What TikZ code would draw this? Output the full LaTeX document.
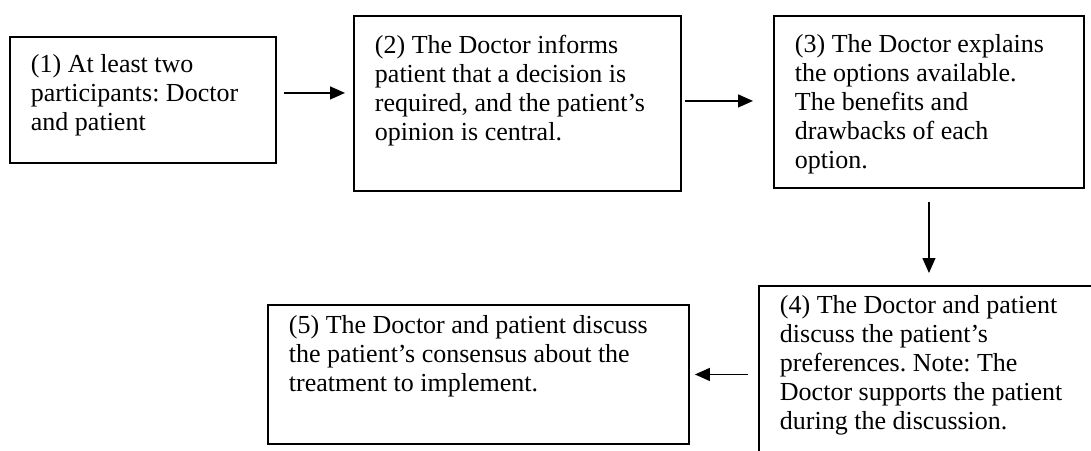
\documentclass[tikz,border=0pt]{standalone}
\usepackage{fontspec}
\setmainfont{Liberation Serif}
\usepackage{tikz}
\usetikzlibrary{arrows.meta,positioning,calc}
\frenchspacing

% text block of a step: width, height, gap to first baseline, text
\newcommand{\steptext}[4]{\parbox[t][#2][t]{#1}{\rule{0pt}{#3}#4}}

\begin{document}
\begin{tikzpicture}[x=1pt, y=-1pt,
    stepbox/.style={draw, line width=1.9pt, anchor=north west,
        inner xsep=21pt, inner ysep=0pt,
        font=\fontsize{26}{28.8}\selectfont},
    >={Triangle[length=15pt, width=13pt]},
    flow/.style={->, line width=1.3pt}]
    \clip (0,0) rectangle (1091,450);

    % Top row
    \node[stepbox] (s1) at (9,36) {\steptext{224pt}{126pt}{36pt}{(1) At least two\\ participants: Doctor\\ and patient}};
    \node[stepbox] (s2) at (353,15) {\steptext{285pt}{175pt}{38pt}{(2) The Doctor informs\\ patient that a decision is\\ required, and the patient’s\\ opinion is central.}};
    \node[stepbox] (s3) at (773,15) {\steptext{268pt}{172pt}{37pt}{(3) The Doctor explains\\ the options available.\\ The benefits and\\ drawbacks of each\\ option.}};

    % Bottom row (box 4 runs off the page)
    \node[stepbox] (s4) at (758,285) {\steptext{310pt}{185pt}{28pt}{(4) The Doctor and patient\\ discuss the patient’s\\ preferences. Note: The\\ Doctor supports the patient\\ during the discussion.}};
    \node[stepbox] (s5) at (267,304) {\steptext{379pt}{139pt}{29pt}{(5) The Doctor and patient discuss\\ the patient’s consensus about the\\ treatment to implement.}};

    % Arrows between the steps
    \draw[flow, shorten <=7pt, shorten >=8pt] ([yshift=7pt]s1.east) -- ([yshift=7pt]s1.east -| s2.west);
    \draw[flow, shorten <=3pt, shorten >=20pt] ([yshift=2.5pt]s2.east) -- ([yshift=2.5pt]s2.east -| s3.west);
    \draw[flow, shorten <=13pt, shorten >=12pt] (s3.south) -- (s3.south |- s4.north);
    \draw[flow, shorten <=10pt, shorten >=5pt] (s5.east -| s4.west) -- (s5.east);
\end{tikzpicture}
\end{document}
